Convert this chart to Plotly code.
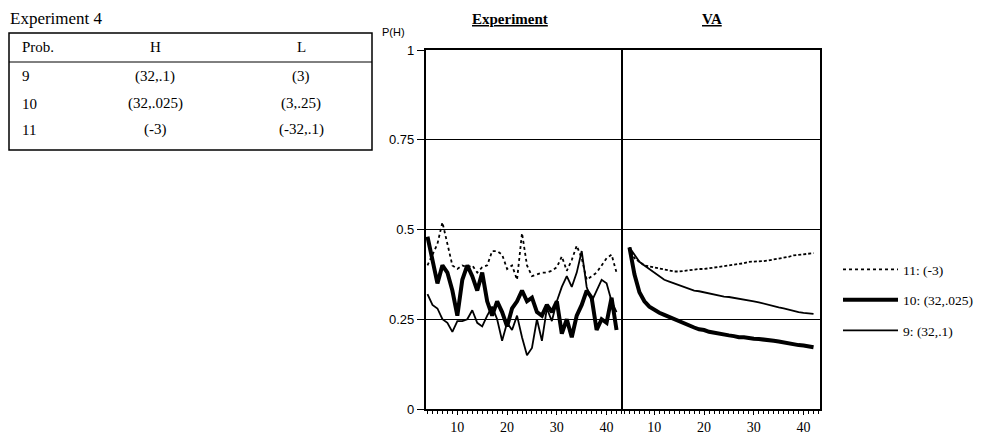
import plotly.graph_objects as go

# ---------------- data ----------------
exp_t = list(range(4, 43))
exp_p11 = [0.40, 0.43, 0.46, 0.52, 0.46, 0.40, 0.39, 0.40, 0.395, 0.40, 0.38, 0.395, 0.40, 0.44,
           0.44, 0.43, 0.39, 0.40, 0.36, 0.49, 0.40, 0.37, 0.375, 0.38, 0.38, 0.385, 0.395, 0.425,
           0.385, 0.415, 0.455, 0.42, 0.36, 0.37, 0.38, 0.40, 0.42, 0.43, 0.38]
exp_p10 = [0.48, 0.42, 0.35, 0.40, 0.38, 0.33, 0.26, 0.36, 0.40, 0.37, 0.33, 0.38, 0.30, 0.26,
           0.30, 0.27, 0.23, 0.28, 0.30, 0.33, 0.30, 0.31, 0.27, 0.26, 0.29, 0.27, 0.30, 0.21,
           0.25, 0.20, 0.26, 0.29, 0.33, 0.31, 0.22, 0.25, 0.24, 0.31, 0.22]
exp_p9 = [0.32, 0.29, 0.28, 0.25, 0.24, 0.215, 0.245, 0.245, 0.25, 0.275, 0.24, 0.23, 0.26, 0.285,
          0.25, 0.19, 0.24, 0.22, 0.26, 0.20, 0.15, 0.17, 0.25, 0.19, 0.28, 0.245, 0.30, 0.34,
          0.37, 0.34, 0.38, 0.44, 0.34, 0.30, 0.33, 0.36, 0.35, 0.30, 0.27]

va_t = list(range(5, 43))
va_p11 = [0.45, 0.42, 0.41, 0.40, 0.397, 0.394, 0.392, 0.388, 0.385, 0.383, 0.383, 0.385, 0.387,
          0.388, 0.39, 0.39, 0.392, 0.394, 0.395, 0.397, 0.398, 0.40, 0.403, 0.406, 0.41, 0.41,
          0.41, 0.412, 0.414, 0.416, 0.42, 0.421, 0.424, 0.428, 0.43, 0.431, 0.432, 0.434]
va_p10 = [0.45, 0.375, 0.325, 0.30, 0.285, 0.275, 0.268, 0.262, 0.256, 0.25, 0.243, 0.237, 0.232,
          0.227, 0.222, 0.22, 0.215, 0.212, 0.21, 0.207, 0.205, 0.203, 0.20, 0.20, 0.197, 0.196,
          0.195, 0.194, 0.192, 0.19, 0.188, 0.185, 0.183, 0.18, 0.178, 0.177, 0.174, 0.172]
va_p9 = [0.45, 0.43, 0.41, 0.40, 0.39, 0.38, 0.37, 0.36, 0.355, 0.35, 0.345, 0.34, 0.335, 0.33,
         0.328, 0.325, 0.323, 0.32, 0.315, 0.313, 0.312, 0.31, 0.307, 0.305, 0.303, 0.30, 0.297,
         0.293, 0.29, 0.286, 0.283, 0.28, 0.276, 0.272, 0.27, 0.268, 0.266, 0.265]

legend_names = ["11: (-3)", "10: (32,.025)", "9: (32,.1)"]
x_ticks = [10, 20, 30, 40]
y_ticks = [0, 0.25, 0.5, 0.75, 1]
y_ticktext = ["0", "0.25", "0.5", "0.75", "1"]

table_title = "Experiment 4"
table_header = ["Prob.", "H", "L"]
table_rows = [["9", "(32,.1)", "(3)"],
              ["10", "(32,.025)", "(3,.25)"],
              ["11", "(-3)", "(-32,.1)"]]

# ---------------- layout helpers ----------------
W, H = 983, 435
OFF = 8  # page body margin
L, R, T, B = 426 - OFF, 820 - OFF, 50 - OFF, 409 - OFF


def px(x):  # page pixel -> paper
    return (x - OFF - L) / (R - L)


def py(y):
    return (B - (y - OFF)) / (B - T)


SERIF = "Liberation Serif, Times New Roman, serif"
SANS = "Liberation Sans, Arial, sans-serif"

fig = go.Figure()

styles = {
    0: dict(color="black", width=1.8, dash="dot"),
    1: dict(color="black", width=4),
    2: dict(color="black", width=1.8),
}
exp_series = [exp_p11, exp_p10, exp_p9]
va_series = [va_p11, va_p10, va_p9]

for i, (name, ys) in enumerate(zip(legend_names, exp_series)):
    fig.add_trace(go.Scatter(x=exp_t, y=ys, mode="lines", name=name, line=styles[i],
                             xaxis="x", yaxis="y", legendgroup=name, showlegend=True))
for i, (name, ys) in enumerate(zip(legend_names, va_series)):
    st = dict(styles[i])
    if i == 0:
        st["dash"] = "3px,2px"
    fig.add_trace(go.Scatter(x=va_t, y=ys, mode="lines", name=name, line=st,
                             xaxis="x2", yaxis="y2", legendgroup=name, showlegend=False))

xcommon = dict(range=[3.7, 43.3], tickvals=x_ticks, ticks="outside", ticklen=4, tickwidth=1,
               tickcolor="black", showgrid=False, zeroline=False, showline=True, linecolor="black",
               linewidth=1.5, mirror=True, automargin=False,
               tickfont=dict(family=SERIF, size=14, color="black"),
               minor=dict(dtick=1, ticks="outside", ticklen=3, tickcolor="black", tickwidth=1,
                          showgrid=False))

fig.update_layout(
    template="none",
    width=W, height=H,
    margin=dict(l=L, r=W - R, t=T, b=H - B, pad=0, autoexpand=False),
    paper_bgcolor="white", plot_bgcolor="white",
    xaxis=dict(domain=[0, 0.5], anchor="y", **xcommon),
    xaxis2=dict(domain=[0.5, 1], anchor="y2", **xcommon),
    yaxis=dict(range=[0, 1], tickvals=y_ticks, ticktext=y_ticktext, ticks="outside", ticklen=7,
               tickcolor="black", showgrid=True, gridcolor="black", gridwidth=1, zeroline=False,
               showline=True, linecolor="black", linewidth=2.2, mirror=False, anchor="x",
               automargin=False, tickfont=dict(family=SANS, size=13, color="black")),
    yaxis2=dict(range=[0, 1], tickvals=y_ticks, showticklabels=False, ticks="", showgrid=True,
                gridcolor="black", gridwidth=1, zeroline=False, showline=True, linecolor="black",
                linewidth=2.4, mirror=True, anchor="x2", matches="y", automargin=False),
    showlegend=True,
    legend=dict(x=px(838), y=py(254), xanchor="left", yanchor="top",
                font=dict(family=SERIF, size=13.5, color="black"), bgcolor="rgba(0,0,0,0)",
                traceorder="grouped", tracegroupgap=10, itemwidth=55),
)


def note(text, x, y, size, family=SERIF, xanchor="center"):
    return dict(text=text, x=px(x), y=py(y), xref="paper", yref="paper", xanchor=xanchor,
                yanchor="middle", showarrow=False, font=dict(family=family, size=size, color="black"))


ann = [
    note("<b><u>Experiment</u></b>", 510, 19, 15),
    note("<b><u>VA</u></b>", 712, 19, 15),
    note("P(H)", 393, 32, 11, family=SANS),
    note(table_title, 8, 18, 17, xanchor="left"),
]
col_x = [(20, "left"), (155, "center"), (301, "center")]
header_y = 47
row_y = [76, 104, 130]
for (cx, anc), txt in zip(col_x, table_header):
    ann.append(note(txt, cx, header_y, 15, xanchor=anc))
for ry, row in zip(row_y, table_rows):
    for (cx, anc), txt in zip(col_x, row):
        ann.append(note(txt, cx, ry, 15, xanchor=anc))

shapes = [
    dict(type="rect", xref="paper", yref="paper", x0=px(9), x1=px(372), y0=py(150), y1=py(33),
         line=dict(color="black", width=1.5), fillcolor="rgba(0,0,0,0)"),
    dict(type="line", xref="paper", yref="paper", x0=px(9), x1=px(372), y0=py(62), y1=py(62),
         line=dict(color="black", width=1)),
]

fig.update_layout(annotations=ann, shapes=shapes)

fig.write_html("out.html")
